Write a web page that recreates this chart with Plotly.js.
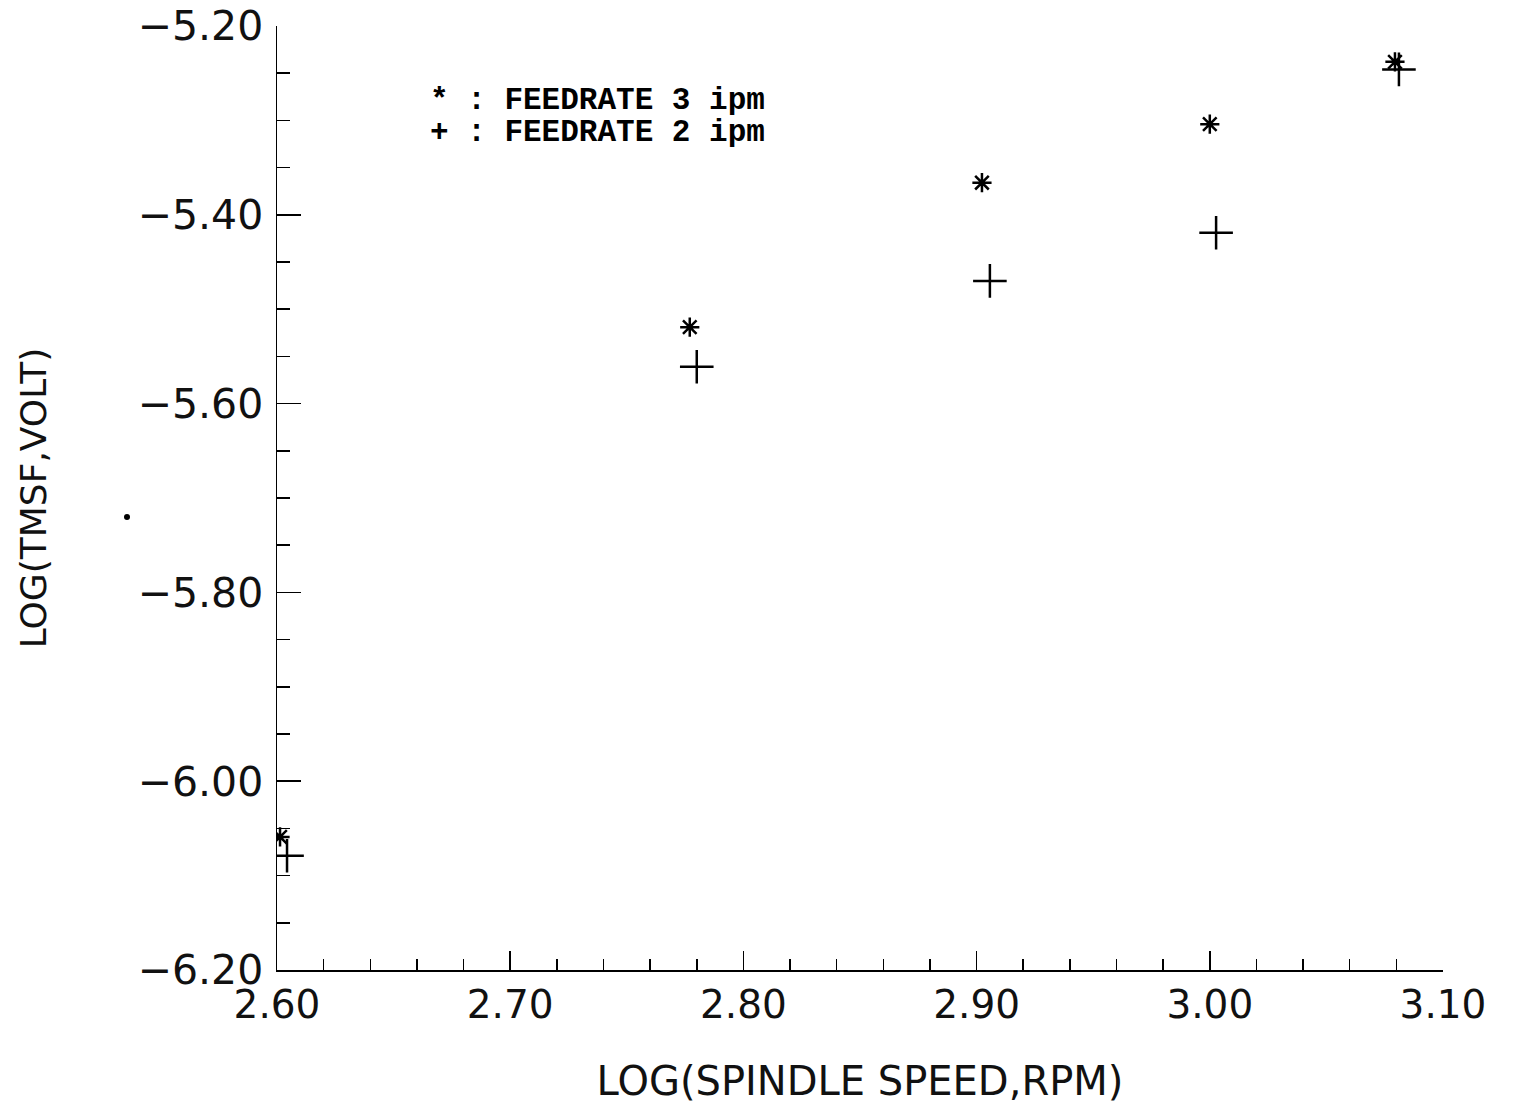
<!DOCTYPE html>
<html>
<head>
<meta charset="utf-8">
<script src="https://cdn.plot.ly/plotly-3.0.1.min.js"></script>
<style>html,body{margin:0;padding:0;background:#fff;}#chart{width:1515px;height:1104px;}</style>
</head>
<body>
<div id="chart"></div>
<script>
// Feedrate 3 ipm (asterisk)
const speed3 = [2.6013, 2.777, 2.9023, 3.000, 3.0794];
const tmsf3  = [-6.059, -5.519, -5.366, -5.304, -5.238];
// Feedrate 2 ipm (plus)
const speed2 = [2.6043, 2.780, 2.9057, 3.0027, 3.0811];
const tmsf2  = [-6.079, -5.561, -5.470, -5.419, -5.246];

const legendLines = ["* : FEEDRATE 3 ipm", "+ : FEEDRATE 2 ipm"];
const xTitle = "LOG(SPINDLE SPEED,RPM)";
const yTitle = "LOG(TMSF,VOLT)";

const xFont = {family: "DejaVu Sans", size: 39, color: "#111"};
const yFont = {family: "DejaVu Sans", size: 41, color: "#111"};
const xTitleFont = {family: "DejaVu Sans", size: 40, color: "#111"};
const yTitleFont = {family: "DejaVu Sans", size: 36, color: "#111"};
const legFont = {family: "Liberation Mono", size: 31, color: "#000", weight: "bold"};

const traces = [
  {x: speed3, y: tmsf3, mode: "markers", type: "scatter", name: "FEEDRATE 3 ipm",
   marker: {symbol: "asterisk-open", size: 16, color: "#000", line: {color: "#000", width: 2.5}}},
  {x: speed2, y: tmsf2, mode: "markers", type: "scatter", name: "FEEDRATE 2 ipm",
   marker: {symbol: "cross-thin-open", size: 24, color: "#000", line: {color: "#000", width: 2.5}}}
];

const layout = {
  width: 1515, height: 1104,
  margin: {l: 277, r: 72, t: 26, b: 134},
  paper_bgcolor: "#fff", plot_bgcolor: "#fff",
  showlegend: false,
  xaxis: {
    range: [2.60, 3.10], dtick: 0.1, tick0: 2.6, tickformat: ".2f",
    showgrid: false, zeroline: false, showline: true, linecolor: "#000", linewidth: 1.5,
    ticks: "inside", ticklen: 19, tickwidth: 1.5, tickcolor: "#000",
    minor: {dtick: 0.02, tick0: 2.6, ticks: "inside", ticklen: 11, tickwidth: 1.5, tickcolor: "#000", showgrid: false},
    tickfont: xFont, ticklabelstandoff: 0,
    title: {text: xTitle, font: xTitleFont, standoff: 48},
    fixedrange: true
  },
  yaxis: {
    range: [-6.20, -5.20], dtick: 0.2, tick0: -6.2, tickformat: ".2f",
    showgrid: false, zeroline: false, showline: true, linecolor: "#000", linewidth: 1.5,
    ticks: "inside", ticklen: 24, tickwidth: 1.5, tickcolor: "#000",
    minor: {dtick: 0.05, tick0: -6.2, ticks: "inside", ticklen: 13, tickwidth: 1.5, tickcolor: "#000", showgrid: false},
    tickfont: yFont, ticklabelstandoff: 4,
    title: {text: yTitle, font: yTitleFont, standoff: 80},
    fixedrange: true
  },
  annotations: [
    {xref: "paper", yref: "paper", x: (428-277)/1166, y: (970-101)/944, xanchor: "left", yanchor: "middle",
     height: 29, text: legendLines[0], showarrow: false, font: legFont},
    {xref: "paper", yref: "paper", x: (428-277)/1166, y: (970-132)/944, xanchor: "left", yanchor: "middle",
     height: 29, text: legendLines[1], showarrow: false, font: legFont}
  ],
  shapes: [
    {type: "circle", xref: "paper", yref: "paper", x0: (124-277)/1166, x1: (130-277)/1166,
     y0: (970-520)/944, y1: (970-514)/944, fillcolor: "#000", line: {width: 0}}
  ]
};

Plotly.newPlot("chart", traces, layout, {displayModeBar: false, staticPlot: true});
</script>
</body>
</html>
